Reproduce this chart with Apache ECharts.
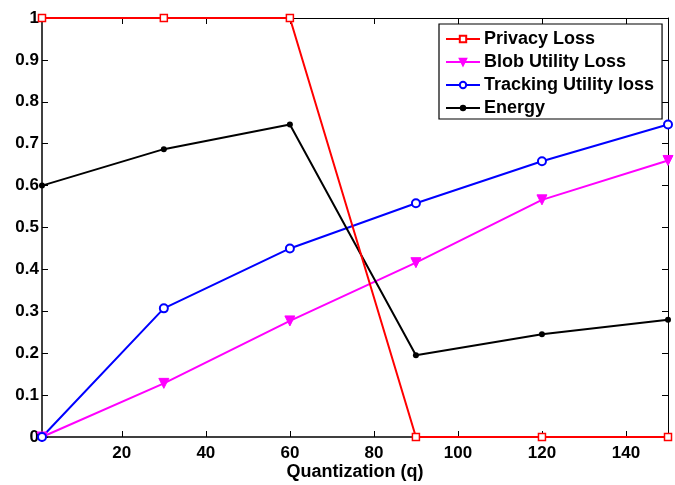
<!DOCTYPE html>
<html>
<head>
<meta charset="utf-8">
<script src="https://cdn.jsdelivr.net/npm/echarts@6/dist/echarts.min.js"></script>
<style>html,body{margin:0;padding:0;background:#fff;}#c{width:675px;height:485px;}</style>
</head>
<body>
<div id="c"></div>
<script>
const xValues = [1, 30, 60, 90, 120, 150];
const privacyLoss = [1, 1, 1, 0, 0, 0];
const blobUtilityLoss = [0, 0.128, 0.277, 0.416, 0.566, 0.66];
const trackingUtilityLoss = [0, 0.307, 0.45, 0.558, 0.658, 0.746];
const energy = [0.6, 0.687, 0.746, 0.195, 0.245, 0.28];
const xTicks = [20, 40, 60, 80, 100, 120, 140];
const yTicks = [0, 0.1, 0.2, 0.3, 0.4, 0.5, 0.6, 0.7, 0.8, 0.9, 1];

const pairs = arr => xValues.map((x, i) => [x, arr[i]]);
const font = '"Liberation Sans", Arial, sans-serif';

const chart = echarts.init(document.getElementById('c'), null, {renderer: 'canvas'});
const axisLineStyle = {color: '#000', width: 1.5};
chart.setOption({
  animation: false,
  backgroundColor: '#fff',
  grid: {left: 42, right: 7, top: 18, bottom: 48, containLabel: false, outerBoundsMode: 'none'},
  xAxis: [{
    type: 'value', min: 1, max: 150, position: 'bottom',
    name: 'Quantization (q)', nameLocation: 'middle', nameGap: 26, nameMoveOverlap: false,
    nameTextStyle: {fontFamily: font, fontWeight: 'bold', fontSize: 18, color: '#000'},
    axisLine: {show: true, onZero: false, lineStyle: axisLineStyle},
    axisTick: {show: true, inside: true, length: 6, customValues: xTicks, lineStyle: {color: '#000', width: 1}},
    axisLabel: {show: true, customValues: xTicks, margin: 8, fontFamily: font, fontWeight: 'bold', fontSize: 17, color: '#000'},
    splitLine: {show: false}
  }, {
    type: 'value', min: 1, max: 150, position: 'top',
    axisLine: {show: true, onZero: false, lineStyle: {color: '#000', width: 1}},
    axisTick: {show: true, inside: true, length: 6, customValues: xTicks, lineStyle: {color: '#000', width: 1}},
    axisLabel: {show: false},
    splitLine: {show: false}
  }],
  yAxis: [{
    type: 'value', min: 0, max: 1, interval: 0.1, position: 'left',
    axisLine: {show: true, onZero: false, lineStyle: axisLineStyle},
    axisTick: {show: true, inside: true, length: 6, lineStyle: {color: '#000', width: 1}},
    axisLabel: {show: true, margin: 3, fontFamily: font, fontWeight: 'bold', fontSize: 17, color: '#000',
      formatter: v => String(Math.round(v * 10) / 10)},
    splitLine: {show: false}
  }, {
    type: 'value', min: 0, max: 1, interval: 0.1, position: 'right',
    axisLine: {show: true, onZero: false, lineStyle: {color: '#000', width: 1}},
    axisTick: {show: true, inside: true, length: 6, lineStyle: {color: '#000', width: 1}},
    axisLabel: {show: false},
    splitLine: {show: false}
  }],
  legend: {
    orient: 'vertical', left: 439, top: 24,
    padding: [5, 8, 1, 6],
    itemWidth: 34, itemHeight: 8, itemGap: 3,
    backgroundColor: '#fff', borderColor: '#000', borderWidth: 1.2, borderRadius: 0,
    textStyle: {fontFamily: font, fontWeight: 'bold', fontSize: 18, color: '#000', lineHeight: 20, padding: [0,0,0,-1]},
    data: ['Privacy Loss', 'Blob Utility Loss', 'Tracking Utility loss', 'Energy']
  },
  series: [{
    name: 'Privacy Loss', type: 'line', data: pairs(privacyLoss),
    symbol: 'rect', symbolSize: 7,
    lineStyle: {color: '#ff0000', width: 2},
    itemStyle: {color: '#fff', borderColor: '#ff0000', borderWidth: 1.5},
    z: 4
  }, {
    name: 'Blob Utility Loss', type: 'line', data: pairs(blobUtilityLoss),
    symbol: 'triangle', symbolRotate: 180, symbolSize: 10,
    lineStyle: {color: '#ff00ff', width: 2},
    itemStyle: {color: '#ff00ff', borderColor: '#ff00ff', borderWidth: 1},
    z: 3
  }, {
    name: 'Tracking Utility loss', type: 'line', data: pairs(trackingUtilityLoss),
    symbol: 'circle', symbolSize: 8,
    lineStyle: {color: '#0000ff', width: 2},
    itemStyle: {color: '#fff', borderColor: '#0000ff', borderWidth: 2},
    z: 3
  }, {
    name: 'Energy', type: 'line', data: pairs(energy),
    symbol: 'circle', symbolSize: 6,
    lineStyle: {color: '#000', width: 2},
    itemStyle: {color: '#000', borderColor: '#000', borderWidth: 0},
    z: 3
  }]
});
</script>
</body>
</html>
